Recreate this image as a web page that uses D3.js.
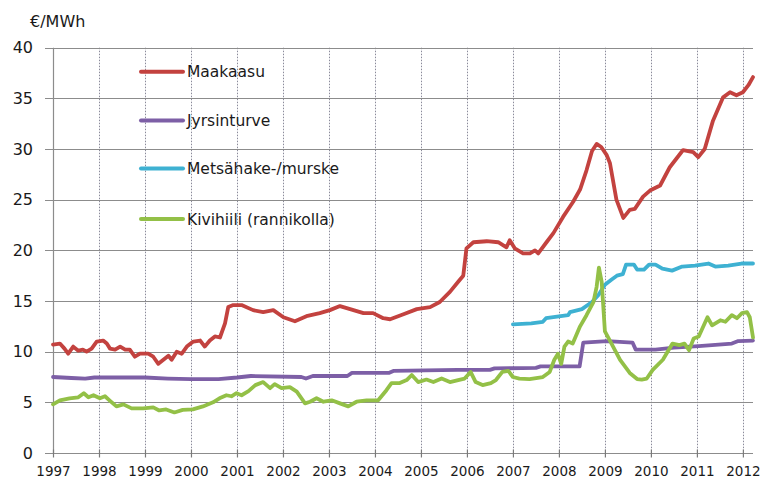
<!DOCTYPE html>
<html>
<head>
<meta charset="utf-8">
<script src="https://cdn.jsdelivr.net/npm/d3@7"></script>
<style>
  html, body { margin: 0; padding: 0; background: #fff; }
  svg { display: block; }
  text { font-family: "DejaVu Sans", Verdana, sans-serif; fill: #1a1a1a; }
</style>
</head>
<body>
<svg id="chart" width="765" height="479"></svg>
<script>
// ---- Data (decimal year, €/MWh) ----
const unitLabel = "€/MWh";
const yTicks = [0, 5, 10, 15, 20, 25, 30, 35, 40];
const xTickYears = [1997, 1998, 1999, 2000, 2001, 2002, 2003, 2004, 2005, 2006, 2007, 2008, 2009, 2010, 2011, 2012];
const seriesNames = ["Maakaasu", "Jyrsinturve", "Metsähake-/murske", "Kivihiili (rannikolla)"];
const seriesColors = ["#c3423f", "#7d5fa6", "#3eb1d2", "#93c047"];

const maakaasu = [
  [1997.00,10.7],[1997.15,10.8],[1997.25,10.3],[1997.33,9.8],[1997.44,10.5],[1997.55,10.1],[1997.65,10.2],
  [1997.73,10.0],[1997.84,10.3],[1997.95,11.0],[1998.09,11.1],[1998.17,10.8],[1998.24,10.3],[1998.35,10.2],
  [1998.46,10.5],[1998.57,10.2],[1998.67,10.2],[1998.78,9.5],[1998.89,9.8],[1999.07,9.8],[1999.18,9.5],
  [1999.29,8.8],[1999.40,9.2],[1999.51,9.6],[1999.58,9.2],[1999.69,10.0],[1999.80,9.8],[1999.91,10.5],
  [2000.05,11.0],[2000.20,11.1],[2000.30,10.5],[2000.41,11.1],[2000.52,11.5],[2000.63,11.4],[2000.74,12.8],
  [2000.81,14.4],[2000.92,14.6],[2001.10,14.6],[2001.35,14.1],[2001.57,13.9],[2001.79,14.1],[2002.01,13.4],
  [2002.26,13.0],[2002.51,13.5],[2002.80,13.8],[2003.02,14.1],[2003.24,14.5],[2003.46,14.2],[2003.75,13.8],
  [2003.96,13.8],[2004.18,13.3],[2004.33,13.2],[2004.62,13.7],[2004.91,14.2],[2005.20,14.4],[2005.41,14.9],
  [2005.63,15.9],[2005.81,16.9],[2005.92,17.5],[2005.99,20.2],[2006.14,20.8],[2006.43,20.9],[2006.68,20.8],
  [2006.86,20.3],[2006.93,21.0],[2007.04,20.2],[2007.22,19.7],[2007.37,19.7],[2007.48,20.0],[2007.55,19.7],
  [2007.73,20.8],[2007.88,21.7],[2008.09,23.3],[2008.31,24.8],[2008.46,26.0],[2008.60,27.9],[2008.72,29.8],
  [2008.82,30.5],[2008.92,30.2],[2009.04,29.4],[2009.11,28.6],[2009.25,25.0],[2009.40,23.2],[2009.47,23.6],
  [2009.54,24.0],[2009.65,24.1],[2009.83,25.3],[2009.98,25.9],[2010.20,26.4],[2010.41,28.2],[2010.70,29.9],
  [2010.92,29.7],[2011.03,29.2],[2011.17,30.0],[2011.35,32.8],[2011.57,35.1],[2011.72,35.6],[2011.86,35.3],
  [2012.00,35.6],[2012.12,36.3],[2012.22,37.1]
];

const jyrsinturve = [
  [1997.00,7.5],[1997.40,7.4],[1997.70,7.35],[1997.90,7.45],[1998.50,7.45],[1999.00,7.45],[1999.50,7.35],
  [2000.00,7.3],[2000.60,7.3],[2001.00,7.45],[2001.30,7.6],[2002.40,7.5],[2002.50,7.35],[2002.65,7.6],
  [2003.40,7.6],[2003.50,7.9],[2004.30,7.9],[2004.40,8.1],[2005.80,8.2],[2006.50,8.2],[2006.60,8.35],
  [2007.50,8.4],[2007.60,8.55],[2008.45,8.55],[2008.53,10.9],[2009.05,11.05],[2009.60,10.9],[2009.67,10.2],
  [2010.10,10.2],[2010.50,10.4],[2011.04,10.55],[2011.76,10.8],[2011.90,11.05],[2012.22,11.1]
];

const metsahake = [
  [2007.00,12.7],[2007.40,12.8],[2007.65,12.95],[2007.72,13.3],[2008.20,13.6],[2008.24,13.9],[2008.50,14.2],
  [2008.72,14.9],[2008.86,15.6],[2009.00,16.6],[2009.14,17.1],[2009.26,17.5],[2009.39,17.65],[2009.46,18.6],
  [2009.63,18.6],[2009.70,18.1],[2009.85,18.1],[2009.96,18.6],[2010.10,18.6],[2010.25,18.2],[2010.46,18.0],
  [2010.68,18.4],[2010.96,18.5],[2011.25,18.7],[2011.40,18.4],[2011.68,18.5],[2011.97,18.7],[2012.22,18.7]
];

const kivihiili = [
  [1997.00,4.8],[1997.15,5.2],[1997.36,5.4],[1997.55,5.5],[1997.67,5.9],[1997.77,5.5],[1997.88,5.7],
  [1998.02,5.4],[1998.13,5.6],[1998.24,5.15],[1998.38,4.6],[1998.53,4.8],[1998.71,4.4],[1998.96,4.4],
  [1999.18,4.5],[1999.31,4.2],[1999.46,4.3],[1999.64,4.0],[1999.82,4.25],[2000.04,4.3],[2000.26,4.6],
  [2000.48,5.0],[2000.62,5.4],[2000.77,5.7],[2000.88,5.6],[2000.99,5.9],[2001.10,5.7],[2001.25,6.1],
  [2001.40,6.7],[2001.57,7.0],[2001.72,6.4],[2001.82,6.8],[2001.97,6.4],[2002.15,6.5],[2002.30,6.05],
  [2002.48,4.9],[2002.59,5.06],[2002.73,5.4],[2002.88,5.06],[2003.06,5.2],[2003.24,4.9],[2003.42,4.6],
  [2003.60,5.06],[2003.82,5.2],[2004.07,5.2],[2004.25,6.2],[2004.36,6.9],[2004.54,6.9],[2004.69,7.2],
  [2004.80,7.7],[2004.94,7.0],[2005.12,7.25],[2005.27,7.0],[2005.45,7.35],[2005.63,7.0],[2005.81,7.2],
  [2005.95,7.35],[2006.08,8.0],[2006.19,7.0],[2006.34,6.7],[2006.52,6.9],[2006.63,7.2],[2006.77,8.0],
  [2006.90,8.1],[2007.00,7.5],[2007.14,7.35],[2007.36,7.3],[2007.65,7.5],[2007.80,8.0],[2007.90,9.2],
  [2007.98,9.8],[2008.05,8.8],[2008.12,10.5],[2008.20,11.0],[2008.30,10.8],[2008.46,12.5],[2008.60,13.6],
  [2008.75,14.9],[2008.82,16.4],[2008.87,18.3],[2008.93,16.9],[2009.00,12.0],[2009.12,11.0],[2009.33,9.2],
  [2009.54,7.9],[2009.70,7.3],[2009.80,7.25],[2009.91,7.35],[2010.04,8.2],[2010.26,9.2],[2010.47,10.8],
  [2010.62,10.65],[2010.73,10.8],[2010.83,10.15],[2010.93,11.3],[2011.04,11.5],[2011.23,13.4],[2011.33,12.6],
  [2011.51,13.1],[2011.62,12.95],[2011.76,13.6],[2011.87,13.3],[2011.98,13.8],[2012.09,13.9],[2012.15,13.4],
  [2012.22,11.4]
];

const seriesData = [maakaasu, jyrsinturve, metsahake, kivihiili];

// ---- Layout ----
const svg = d3.select("#chart");
const plotLeft = 53, plotRight = 753, plotTop = 47.7, plotBottom = 453;
const x = d3.scaleLinear().domain([1997, 2012.22]).range([plotLeft, plotRight]);
const y = d3.scaleLinear().domain([0, 40]).range([plotBottom, plotTop]);

// vertical dotted gridlines
svg.append("g").selectAll("line")
  .data(xTickYears.filter(d => d > 1997))
  .join("line")
  .attr("x1", d => Math.round(x(d)) + 0.5).attr("x2", d => Math.round(x(d)) + 0.5)
  .attr("y1", plotTop).attr("y2", plotBottom)
  .attr("stroke", "#8a8a9a").attr("stroke-width", 1)
  .attr("stroke-dasharray", "1.5,1.5");

// horizontal gridlines (with left tick)
svg.append("g").selectAll("line")
  .data(yTicks)
  .join("line")
  .attr("x1", plotLeft - 8).attr("x2", plotRight)
  .attr("y1", d => Math.round(y(d)) + 0.5).attr("y2", d => Math.round(y(d)) + 0.5)
  .attr("stroke", "#8c8c8c").attr("stroke-width", 1.2);

// y axis line
svg.append("line")
  .attr("x1", plotLeft + 0.5).attr("x2", plotLeft + 0.5)
  .attr("y1", plotTop).attr("y2", plotBottom)
  .attr("stroke", "#8c8c8c").attr("stroke-width", 1.2);

// x axis with ticks
const xAxis = d3.axisBottom(x).tickValues(xTickYears).tickFormat(d3.format("d")).tickSize(5).tickSizeOuter(0);
const gx = svg.append("g").attr("transform", `translate(0,${Math.round(plotBottom) - 3.5})`).call(xAxis);
gx.select(".domain").remove();
gx.selectAll(".tick line").attr("stroke", "#7a7a7a").attr("stroke-width", 1.2).attr("y1", 0).attr("y2", 8);
gx.selectAll(".tick text")
  .attr("y", 0).attr("dy", 0)
  .attr("transform", "translate(0,26)")
  .style("font-family", "DejaVu Sans, sans-serif")
  .style("font-size", "13.5px").attr("fill", "#1a1a1a");

// y labels
const yAxis = d3.axisLeft(y).tickValues(yTicks).tickSize(0).tickPadding(0);
const gy = svg.append("g").attr("transform", `translate(${33},0)`).call(yAxis);
gy.select(".domain").remove();
gy.selectAll(".tick text")
  .style("font-family", "DejaVu Sans, sans-serif")
  .style("font-size", "16px").attr("fill", "#1a1a1a");

// unit label
svg.append("text").attr("x", 30).attr("y", 27)
  .style("font-size", "16px").text(unitLabel);

// lines
const line = d3.line().x(d => x(d[0])).y(d => y(d[1]));
svg.append("g").selectAll("path")
  .data(seriesData)
  .join("path")
  .attr("d", line)
  .attr("fill", "none")
  .attr("stroke", (d, i) => seriesColors[i])
  .attr("stroke-width", 3.8)
  .attr("stroke-linejoin", "round")
  .attr("stroke-linecap", "round");

// legend
const legendY = [71.7, 120.5, 168.5, 219];
const lg = svg.append("g").selectAll("g")
  .data(seriesNames)
  .join("g")
  .attr("transform", (d, i) => `translate(0,${legendY[i]})`);
lg.append("line")
  .attr("x1", 141).attr("x2", 183).attr("y1", 0).attr("y2", 0)
  .attr("stroke", (d, i) => seriesColors[i]).attr("stroke-width", 4)
  .attr("stroke-linecap", "round");
lg.append("text")
  .attr("x", 187).attr("y", 0).attr("dy", "0.36em")
  .style("font-size", "15.5px")
  .text(d => d);
</script>
</body>
</html>
